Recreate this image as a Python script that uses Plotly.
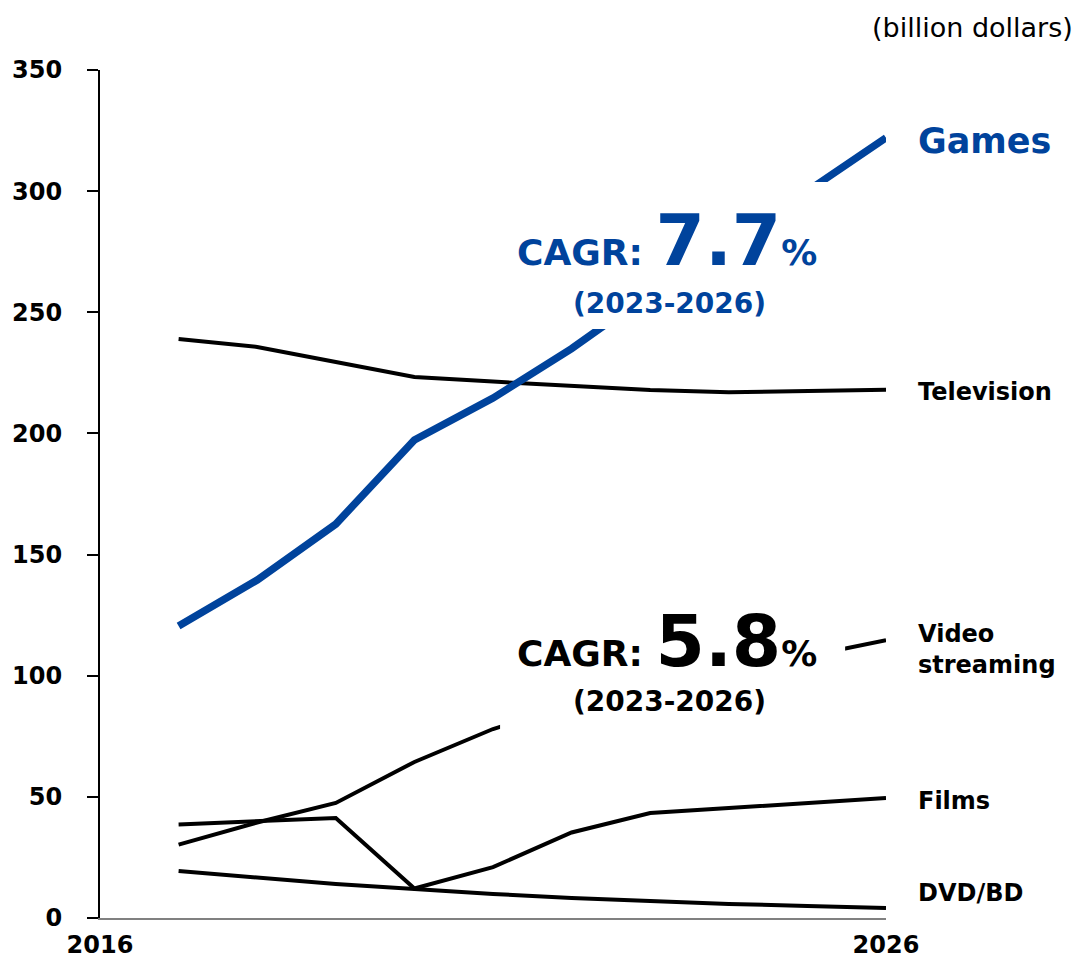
import plotly.graph_objects as go

years = list(range(2017, 2027))
games = [120.5, 139.5, 162.6, 197.3, 214.6, 235.0, 258.0, 279.0, 300.0, 322.0]
television = [239.0, 235.7, 229.5, 223.3, 221.4, 219.6, 217.9, 217.0, 217.5, 218.0]
video = [30.3, 39.4, 47.5, 64.4, 78.0, 88.0, 96.5, 102.0, 108.0, 114.7]
films = [38.6, 40.0, 41.3, 12.2, 21.0, 35.3, 43.3, 45.4, 47.5, 49.5]
dvd = [19.4, 16.9, 14.0, 12.0, 9.9, 8.3, 7.0, 5.8, 5.0, 4.1]

series_names = ["Games", "Television", "Video<br>streaming", "Films", "DVD/BD"]
y_ticks = [0, 50, 100, 150, 200, 250, 300, 350]
x_ticks = [2016, 2026]

BLUE = "#00439C"
FONT = "DejaVu Sans"

fig = go.Figure()
for vals in [television, video, films, dvd]:
    fig.add_trace(go.Scatter(x=years, y=vals, mode="lines",
                             line=dict(color="black", width=4), hoverinfo="skip"))
fig.add_trace(go.Scatter(x=years, y=games, mode="lines",
                         line=dict(color=BLUE, width=7.5), hoverinfo="skip"))

# white masks behind CAGR annotations
fig.add_shape(type="rect", xref="x", yref="y", x0=2021.09, x1=2025.48, y0=243.1, y1=303.8,
              fillcolor="white", line=dict(width=0), layer="above")
fig.add_shape(type="rect", xref="x", yref="y", x0=2021.09, x1=2025.48, y0=77.4, y1=140.0,
              fillcolor="white", line=dict(width=0), layer="above")

def cagr(value, color, y_main, y_sub):
    fig.add_annotation(x=2023.22, y=y_main, xref="x", yref="y", showarrow=False,
                       xanchor="center", yanchor="middle",
                       text=f"CAGR: <span style='font-size:71px'>{value}</span>%",
                       font=dict(family=FONT, size=36, color=color, weight="bold"))
    fig.add_annotation(x=2023.24, y=y_sub, xref="x", yref="y", showarrow=False,
                       xanchor="center", yanchor="middle",
                       text="(2023-2026)",
                       font=dict(family=FONT, size=28, color=color, weight="bold"))

cagr("7.7", BLUE, 279.7, 253.8)
cagr("5.8", "black", 114.0, 89.4)

# series labels: (name, anchor value, font size, colour, downward pixel offset)
label_info = [
    (series_names[0], games[-1], 35, BLUE, 3),
    (series_names[1], television[-1], 24, "black", 2),
    (series_names[2], video[-1], 24, "black", 9),
    (series_names[3], films[-1], 24, "black", 3),
    (series_names[4], dvd[-1], 24, "black", -15),
]
for name, yv, size, color, shift in label_info:
    fig.add_annotation(x=1.038, y=yv, xref="paper", yref="y", showarrow=False,
                       xanchor="left", yanchor="middle", align="left", yshift=-shift,
                       text=name, font=dict(family=FONT, size=size, color=color, weight="bold"))

fig.add_annotation(x=1.2405, y=1.0507, xref="paper", yref="paper", showarrow=False,
                   xanchor="right", yanchor="middle", text="(billion dollars)",
                   font=dict(family=FONT, size=27, color="black"))

fig.update_layout(
    width=1074, height=958,
    margin=dict(l=92, r=196, t=62, b=48, autoexpand=False),
    plot_bgcolor="white", paper_bgcolor="white",
    showlegend=False,
    font=dict(family=FONT, color="black"),
    xaxis=dict(range=[2016, 2026], tickvals=x_ticks, ticktext=[str(v) for v in x_ticks],
               showgrid=False, zeroline=False, showline=True, linecolor="#808080", linewidth=2,
               ticks="", ticklabelstandoff=4, automargin=False,
               tickfont=dict(family=FONT, size=24, weight="bold", color="black")),
    yaxis=dict(range=[0, 350], tickvals=y_ticks, showgrid=False, zeroline=False,
               showline=True, linecolor="black", linewidth=2, ticks="outside", ticklen=11,
               tickwidth=2, tickcolor="black", ticklabelstandoff=20, automargin=False,
               tickfont=dict(family=FONT, size=24, weight="bold", color="black")),
)

fig.write_html("out.html")
